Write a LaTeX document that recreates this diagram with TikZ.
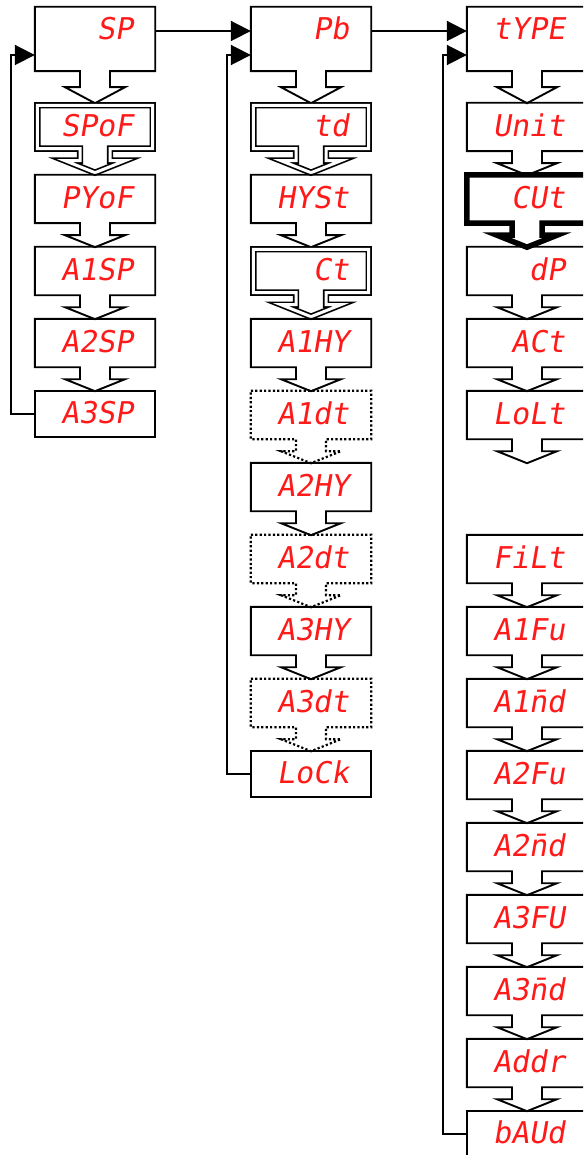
\documentclass[tikz,border=0pt]{standalone}
\usepackage{fontspec}
\usepackage{tikz}
\usetikzlibrary{calc,arrows.meta}
\newfontfamily\segfont{DejaVu Sans Mono}[FakeSlant=0.17]
\definecolor{segred}{HTML}{FF1A1A}
\tikzset{
  menu/.style={minimum width=120pt, minimum height=48pt, inner xsep=22pt, inner ysep=0pt,
    text width=76pt, align=right, text=segred, font=\segfont\fontsize{30}{30}\selectfont,
    text height=22pt, text depth=3pt},
  headmenu/.style={menu, minimum height=64pt, text depth=21pt},
  dblmenu/.style={menu, minimum width=115pt, minimum height=43pt, inner xsep=19.5pt},
  lastmenu/.style={menu, minimum height=46pt},
  frame/.style={line width=1.9pt, draw=black, line join=miter},
  dblframe/.style={frame, line width=1.7pt, double, double distance=3pt},
  thickframe/.style={line width=5.5pt, draw=black, line join=miter},
  dotframe/.style={frame, line width=2.2pt, dash pattern=on 2.2pt off 2.2pt},
  flow/.style={line width=1.9pt, draw=black, -{Triangle[length=20pt,width=20pt]}},
}
% Kasten mit Pfeil nach unten
\newcommand{\dropbox}[3][frame]{%
  \draw[#1] (#2.north west) -- (#2.north east) -- (#2.south east)
    -- ($(#2.south)+(15,0)$) -- ++(0,-#3/2) -- ++(15,0) -- ($(#2.south)+(0,-#3)$)
    -- ++(-30,#3/2) -- ++(15,0) -- ($(#2.south)+(-15,0)$) -- (#2.south west) -- cycle;}

\begin{document}
\begin{tikzpicture}[x=1pt, y=1pt]
  \useasboundingbox (0,0) rectangle (583,-1155);
  \clip (0,0) rectangle (583,-1155);
  % Spalte 1
  \node[headmenu] (sp) at (95,-39) {SP};
  \dropbox{sp}{32}
  \foreach \nm/\txt/\ty/\sty/\fr in {spof/SPoF/103/dblmenu/dblframe, pyof/PYoF/175/menu/frame,
      a1sp/A1SP/247/menu/frame, a2sp/A2SP/319/menu/frame}{
    \node[\sty] (\nm) at (95,-\ty-24) {\txt};
    \dropbox[\fr]{\nm}{24}
  }
  \node[lastmenu] (a3sp) at (95,-414) {A3SP};
  \draw[frame] (a3sp.north west) rectangle (a3sp.south east);
  % Spalte 2
  \node[headmenu] (pb) at (311,-39) {Pb};
  \dropbox{pb}{32}
  \foreach \nm/\txt/\ty/\sty/\fr in {td/td/103/dblmenu/dblframe, hyst/HYSt/175/menu/frame,
      ct/Ct/247/dblmenu/dblframe, a1hy/A1HY/319/menu/frame, a1dt/A1dt/391/menu/dotframe,
      a2hy/A2HY/463/menu/frame, a2dt/A2dt/535/menu/dotframe, a3hy/A3HY/607/menu/frame,
      a3dt/A3dt/679/menu/dotframe}{
    \node[\sty] (\nm) at (311,-\ty-24) {\txt};
    \dropbox[\fr]{\nm}{24}
  }
  \node[lastmenu] (lock) at (311,-774) {LoCk};
  \draw[frame] (lock.north west) rectangle (lock.south east);
  % Spalte 3
  \node[headmenu] (type) at (527,-39) {tYPE};
  \dropbox{type}{32}
  \foreach \nm/\txt/\ty/\fr in {unit/Unit/103/frame, cut/CUt/175/thickframe, dp/dP/247/frame,
      act/ACt/319/frame, lolt/LoLt/391/frame, filt/FiLt/535/frame, a1fu/A1Fu/607/frame,
      a1nd/A1n̄d/679/frame, a2fu/A2Fu/751/frame, a2nd/A2n̄d/823/frame, a3fu/A3FU/895/frame,
      a3nd/A3n̄d/967/frame, addr/Addr/1039/frame}{
    \node[menu] (\nm) at (527,-\ty-24) {\txt};
    \dropbox[\fr]{\nm}{24}
  }
  \node[lastmenu] (baud) at (527,-1134) {bAUd};
  \draw[frame] (baud.north west) rectangle (baud.south east);
  % Verbindungen
  \draw[flow] ([yshift=8pt]sp.east) -- ([yshift=8pt]pb.west);
  \draw[flow] ([yshift=8pt]pb.east) -- ([yshift=8pt]type.west);
  \draw[flow] (a3sp.west) -- ++(-24,0) |- ([yshift=-16pt]sp.west);
  \draw[flow] (lock.west) -- ++(-24,0) |- ([yshift=-16pt]pb.west);
  \draw[flow] (baud.west) -- ++(-24,0) |- ([yshift=-16pt]type.west);
\end{tikzpicture}
\end{document}
